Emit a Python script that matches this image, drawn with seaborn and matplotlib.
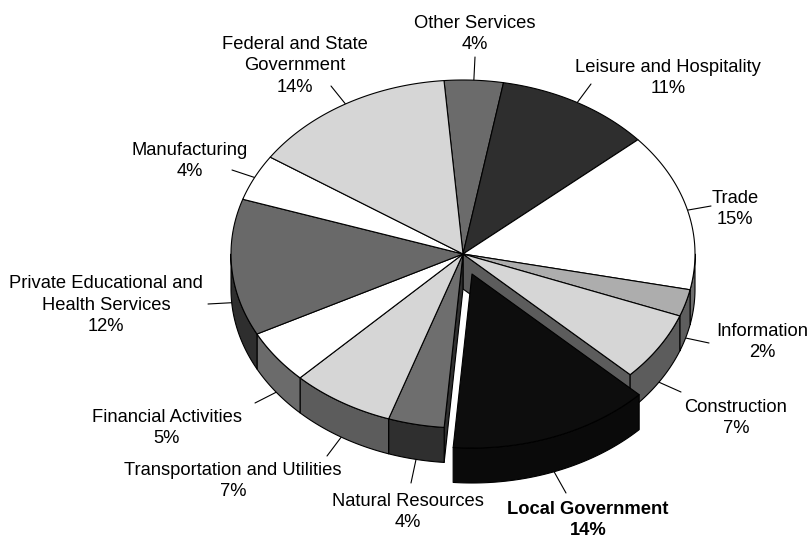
import numpy as np
import matplotlib
matplotlib.use('Agg')
import matplotlib.pyplot as plt
from matplotlib.patches import Polygon
import seaborn as sns

# clockwise from the top of the pie
sectors = ['Other Services', 'Leisure and Hospitality', 'Trade', 'Information', 'Construction',
           'Local Government', 'Natural Resources', 'Transportation and Utilities',
           'Financial Activities', 'Private Educational and\nHealth Services', 'Manufacturing',
           'Federal and State\nGovernment']
shares = [4.1, 10.8, 14.7, 2.5, 6.4, 14.1, 3.9, 7.2, 5.0, 12.7, 4.3, 14.3]
pct_labels = ['4%', '11%', '15%', '2%', '7%', '14%', '4%', '7%', '5%', '12%', '4%', '14%']
top_colors = ['#6b6b6b', '#2e2e2e', '#ffffff', '#adadad', '#d6d6d6', '#0d0d0d',
              '#6e6e6e', '#d6d6d6', '#ffffff', '#696969', '#ffffff', '#d6d6d6']
side_colors = ['#3a3a3a', '#1a1a1a', '#6e6e6e', '#5e5e5e', '#5c5c5c', '#0a0a0a',
               '#2f2f2f', '#5c5c5c', '#6b6b6b', '#2e2e2e', '#808080', '#5c5c5c']
label_pos = [(475, 34), (668, 78), (735, 209), (762, 342), (736, 418), (588, 520),
             (408, 512), (233, 481), (167, 428), (106, 305), (190, 161), (295, 66)]
leader_end = [(475, 57), (591, 84), (711, 206), (709, 343), (681, 392), (566, 493),
              (411, 483), (327, 456), (255, 403), (208, 304), (232, 170), (331, 86)]

CX, CY = 463, 254
RX, RY = 232, 174
DEPTH = 35
START = -4.7
EXPLODE = 5  # index of the pulled out slice
OFFSET = (9, 20)
LW = 0.8

sns.set_theme(style='white')
plt.rcParams['font.family'] = ['Liberation Sans', 'DejaVu Sans']

fig = plt.figure(figsize=(8.09, 5.35), dpi=100)
ax = fig.add_axes([0, 0, 1, 1])
ax.set_xlim(0, 809)
ax.set_ylim(535, 0)
ax.axis('off')


def rim(t0, t1, dx=0, dy=0):
    t = np.radians(np.linspace(t0, t1, 80))
    return np.column_stack([CX + dx + RX * np.sin(t), CY + dy - RY * np.cos(t)])


def fill(points, color, z):
    ax.add_patch(Polygon(points, closed=True, facecolor=color, edgecolor='black',
                         linewidth=LW, joinstyle='round', zorder=z))


edges = START + np.cumsum([0] + shares) * 3.6
mids = (edges[:-1] + edges[1:]) / 2

# cut walls left open behind the pulled out slice
t0, t1 = edges[EXPLODE], edges[EXPLODE + 1]
for t, color in [(t0, side_colors[EXPLODE - 1]), (t1, side_colors[EXPLODE + 1])]:
    p = rim(t, t)[0]
    fill([(CX, CY), p, (p[0], p[1] + DEPTH), (CX, CY + DEPTH)], color, 1)

for i in range(len(shares)):
    dx, dy = OFFSET if i == EXPLODE else (0, 0)
    z = 5 if i == EXPLODE else 2
    a, b = max(edges[i], 90), min(edges[i + 1], 270)
    if a < b:
        arc = rim(a, b, dx, dy)
        fill(np.vstack([arc, (arc + [0, DEPTH])[::-1]]), side_colors[i], z)
    top = np.vstack([[(CX + dx, CY + dy)], rim(edges[i], edges[i + 1], dx, dy)])
    fill(top, top_colors[i], z + 1)

for i, name in enumerate(sectors):
    dx, dy = OFFSET if i == EXPLODE else (0, 0)
    anchor = rim(mids[i], mids[i], dx, dy)[0]
    if 90 < mids[i] < 270:
        anchor[1] += DEPTH
    ax.plot([anchor[0], leader_end[i][0]], [anchor[1], leader_end[i][1]],
            color='black', linewidth=LW, zorder=1)
    ax.text(label_pos[i][0], label_pos[i][1], name + '\n' + pct_labels[i], ha='center', va='center',
            fontsize=13.2, linespacing=1.36, color='black',
            fontweight='bold' if i == EXPLODE else 'normal', zorder=8)

fig.savefig('out.png', dpi=100)
